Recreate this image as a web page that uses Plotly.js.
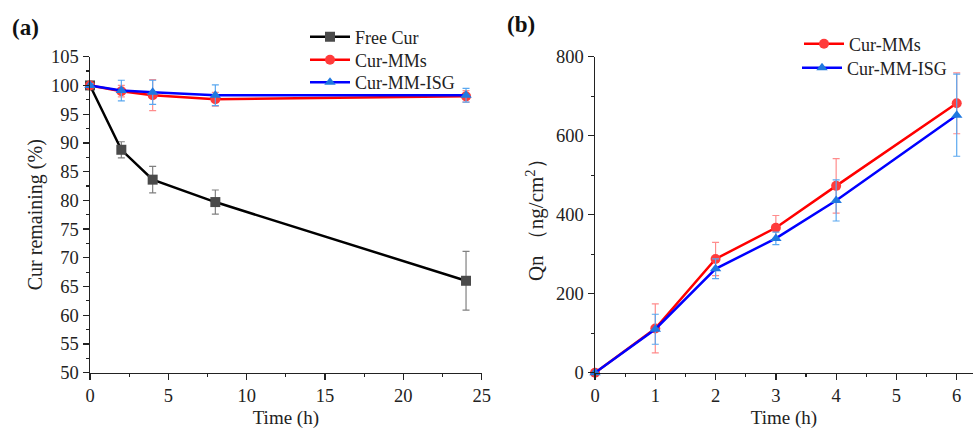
<!DOCTYPE html>
<html>
<head>
<meta charset="utf-8">
<script src="https://cdn.plot.ly/plotly-3.0.1.min.js"></script>
<style>html,body{margin:0;padding:0;background:#fff;}#chart{width:976px;height:429px;}</style>
</head>
<body>
<div id="chart"></div>
<script>
// Panel (a): stability
const timeA = [0, 2, 4, 8, 24];
const freeCur = [100, 88.8, 83.6, 79.7, 66.0];
const freeCurErr = [0.3, 1.4, 2.3, 2.1, 5.1];
const mmsA = [100, 99.0, 98.3, 97.6, 98.1];
const mmsAErr = [0.3, 1.0, 2.7, 1.2, 1.0];
const isgA = [100, 99.1, 98.8, 98.3, 98.3];
const isgAErr = [0.3, 1.8, 2.1, 1.8, 1.2];

// Panel (b): permeation
const timeB = [0, 1, 2, 3, 4, 6];
const mmsB = [0, 112, 288, 367, 473, 682];
const mmsBErr = [0, 62, 42, 31, 69, 77];
const isgB = [0, 110, 263, 340, 436, 652];
const isgBErr = [0, 38, 25, 16, 52, 104];

const serif = 'Liberation Serif, Times New Roman, serif';
const tickFont = {family: serif, size: 18.5, color: '#222'};

function tr(x, y, err, name, lineColor, markerColor, errColor, symbol, xa, ya, legend) {
  return {
    x: x, y: y, name: name, type: 'scatter', mode: 'lines+markers',
    xaxis: xa, yaxis: ya, legend: legend,
    line: {color: lineColor, width: 2.5},
    marker: {color: markerColor, symbol: symbol, size: 10},
    error_y: {type: 'data', array: err, visible: true, color: errColor, thickness: 1.2, width: 3.5},
    cliponaxis: false
  };
}

const data = [
  tr(timeA, freeCur, freeCurErr, 'Free Cur', '#000000', '#4a4a4a', '#808080', 'square', 'x', 'y', 'legend'),
  tr(timeA, mmsA, mmsAErr, 'Cur-MMs', '#ff0000', '#ff3b3b', '#ff8c8c', 'circle', 'x', 'y', 'legend2'),
  tr(timeA, isgA, isgAErr, 'Cur-MM-ISG', '#0000ff', '#1f78e0', '#5aa8f0', 'triangle-up', 'x', 'y', 'legend3'),
  tr(timeB, mmsB, mmsBErr, 'Cur-MMs', '#ff0000', '#ff3b3b', '#ff8c8c', 'circle', 'x2', 'y2', 'legend4'),
  tr(timeB, isgB, isgBErr, 'Cur-MM-ISG', '#0000ff', '#1f78e0', '#5aa8f0', 'triangle-up', 'x2', 'y2', 'legend5')
];

const axisBase = {
  showline: true, linecolor: '#222', linewidth: 1.5, mirror: false,
  showgrid: false, zeroline: false, ticks: 'outside', ticklen: 6, tickwidth: 1.3, tickcolor: '#222',
  tickfont: tickFont
};

const H = 429, MB = 14, PH = H - MB;
const yDom = [(PH - 372.7) / PH, (PH - 56.7) / PH];

function leg(px, py) {
  return {
    x: px / 976, y: (PH - py) / PH, xanchor: 'left', yanchor: 'middle',
    font: {family: serif, size: 18, color: '#222'}, bgcolor: 'rgba(0,0,0,0)',
    tracegroupgap: 0, itemwidth: 40
  };
}

const layout = {
  width: 976, height: H,
  margin: {l: 0, r: 0, t: 0, b: MB},
  paper_bgcolor: '#fff', plot_bgcolor: '#fff',
  showlegend: true,
  xaxis: Object.assign({}, axisBase, {
    domain: [90/976, 481.7/976], range: [0, 25], tickvals: [0, 5, 10, 15, 20, 25],
    minor: {dtick: 2.5, ticks: 'outside', ticklen: 3, tickcolor: '#222', tickwidth: 1.2},
    title: {text: 'Time (h)', font: {family: serif, size: 19, color: '#222'}, standoff: 14},
    automargin: false, anchor: 'y'
  }),
  yaxis: Object.assign({}, axisBase, {
    domain: yDom, range: [50, 105], dtick: 5,
    minor: {dtick: 2.5, ticks: 'outside', ticklen: 3, tickcolor: '#222', tickwidth: 1.2},
    title: {text: 'Cur remaining (%)', font: {family: serif, size: 20, color: '#222'}, standoff: 3},
    anchor: 'x'
  }),
  xaxis2: Object.assign({}, axisBase, {
    domain: [595/976, 973/976], range: [0, 6.27], tickvals: [0, 1, 2, 3, 4, 5, 6],
    minor: {dtick: 0.5, ticks: 'outside', ticklen: 3, tickcolor: '#222', tickwidth: 1.2},
    title: {text: 'Time (h)', font: {family: serif, size: 19, color: '#222'}, standoff: 14},
    automargin: false, anchor: 'y2'
  }),
  yaxis2: Object.assign({}, axisBase, {
    domain: yDom, range: [0, 800], dtick: 200,
    minor: {dtick: 100, ticks: 'outside', ticklen: 3, tickcolor: '#222', tickwidth: 1.2},
    title: {text: 'Qn （ng/cm<sup>2</sup>）', font: {family: serif, size: 21, color: '#222'}, standoff: 6},
    anchor: 'x2'
  }),
  legend: leg(305, 37),
  legend2: leg(305, 60),
  legend3: leg(305, 82.5),
  legend4: leg(799, 44),
  legend5: leg(797, 68),
  annotations: [
    {text: '<b>(a)</b>', x: 10/976, y: (PH - 28) / PH, xref: 'paper', yref: 'paper', xanchor: 'left', yanchor: 'middle', showarrow: false, font: {family: serif, size: 23, color: '#111'}},
    {text: '<b>(b)</b>', x: 505/976, y: (PH - 25) / PH, xref: 'paper', yref: 'paper', xanchor: 'left', yanchor: 'middle', showarrow: false, font: {family: serif, size: 23, color: '#111'}}
  ]
};

Plotly.newPlot('chart', data, layout, {displayModeBar: false, staticPlot: true});
</script>
</body>
</html>
